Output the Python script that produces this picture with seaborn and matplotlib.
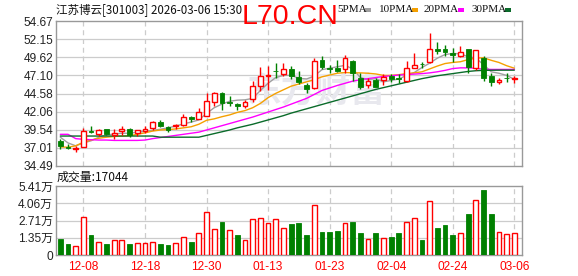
import matplotlib
matplotlib.use("Agg")
import matplotlib.pyplot as plt
import numpy as np
import pandas as pd
import seaborn as sns

sns.set_theme(style="white")
plt.rcParams["font.family"] = ["Liberation Sans", "Noto Sans CJK SC", "DejaVu Sans"]

# ---------------- data ----------------
title = "江苏博云[301003] 2026-03-06 15:30"
dates = ["12-03", "12-04", "12-05", "12-08", "12-09", "12-10", "12-11", "12-12", "12-15", "12-16",
         "12-17", "12-18", "12-19", "12-22", "12-23", "12-24", "12-25", "12-26", "12-29", "12-30",
         "12-31", "01-05", "01-06", "01-07", "01-08", "01-09", "01-12", "01-13", "01-14", "01-15",
         "01-16", "01-19", "01-20", "01-21", "01-22", "01-23", "01-26", "01-27", "01-28", "01-29",
         "01-30", "02-02", "02-03", "02-04", "02-05", "02-06", "02-09", "02-10", "02-11", "02-12",
         "02-13", "02-24", "02-25", "02-26", "02-27", "03-02", "03-03", "03-04", "03-05", "03-06"]
tick_dates = ["12-08", "12-18", "12-30", "01-13", "01-23", "02-04", "02-24", "03-06"]

opens = [38.00, 37.20, 36.85, 37.17, 39.40, 39.00, 39.60, 38.80, 39.30, 39.60,
         39.05, 39.30, 39.73, 40.65, 39.90, 40.05, 40.20, 41.35, 41.10, 41.50,
         43.40, 44.60, 43.40, 43.10, 42.90, 43.76, 45.60, 47.00, 47.75, 47.23,
         47.97, 46.90, 45.75, 45.30, 49.22, 48.10, 48.07, 47.93, 49.13, 46.68,
         45.75, 46.44, 46.44, 46.99, 46.75, 46.35, 48.15, 48.72, 48.98, 50.75,
         50.75, 50.15, 49.82, 50.75, 48.12, 49.54, 47.04, 46.12, 46.80, 46.58]
highs = [38.20, 37.50, 37.27, 39.82, 40.05, 39.60, 39.70, 39.60, 40.10, 39.80,
         39.55, 40.00, 40.70, 40.90, 40.00, 40.30, 41.70, 41.45, 42.60, 44.70,
         44.80, 44.80, 44.30, 43.20, 43.70, 46.30, 48.30, 48.40, 48.76, 48.76,
         48.39, 47.70, 45.98, 49.50, 49.78, 48.60, 49.30, 49.90, 49.20, 47.45,
         46.70, 46.68, 47.28, 47.28, 47.28, 49.08, 50.24, 48.98, 53.02, 51.77,
         51.31, 50.85, 51.17, 50.75, 50.61, 49.78, 47.37, 46.76, 47.37, 46.99]
lows = [36.90, 36.90, 36.40, 37.10, 39.10, 38.70, 38.80, 38.30, 38.80, 38.50,
        38.70, 39.10, 39.50, 39.90, 39.20, 39.70, 40.00, 40.60, 41.00, 41.40,
        42.90, 42.30, 42.90, 42.30, 42.60, 43.40, 44.90, 45.05, 46.76, 46.99,
        46.54, 45.90, 44.60, 45.20, 47.93, 47.45, 47.60, 47.37, 46.35, 45.20,
        45.30, 45.43, 45.75, 46.20, 46.00, 46.20, 48.07, 48.07, 48.76, 50.06,
        49.78, 48.98, 49.60, 47.37, 47.90, 46.35, 45.60, 45.89, 46.20, 46.07]
closes = [37.27, 37.00, 37.05, 39.35, 39.20, 39.50, 38.90, 39.10, 39.60, 38.80,
          39.50, 39.70, 40.60, 40.05, 39.50, 40.20, 41.35, 40.97, 42.00, 43.60,
          44.60, 43.30, 43.20, 42.85, 43.40, 45.60, 47.00, 47.10, 47.65, 47.93,
          47.00, 46.20, 45.15, 49.13, 48.29, 48.00, 47.73, 49.46, 47.37, 45.43,
          46.35, 45.50, 46.90, 46.58, 46.60, 48.07, 48.53, 48.62, 50.75, 50.47,
          50.29, 49.87, 50.29, 48.21, 50.61, 46.68, 46.20, 46.44, 46.70, 46.68]

ma5 = [38.50, 37.70, 37.30, 37.70, 38.00, 38.50, 38.80, 38.95, 39.05, 39.05,
       39.20, 39.30, 39.45, 39.60, 39.80, 40.05, 40.35, 40.60, 40.90, 41.80,
       42.60, 43.10, 43.50, 43.65, 43.70, 43.90, 45.00, 46.00, 46.80, 47.10,
       47.10, 46.70, 46.60, 47.00, 47.90, 48.10, 48.30, 48.50, 48.00, 46.80,
       46.50, 46.65, 46.20, 46.40, 46.60, 47.10, 47.50, 48.20, 48.80, 49.50,
       50.00, 50.15, 50.10, 49.70, 49.50, 48.60, 47.60, 47.40, 47.10, 46.55]
ma10 = [37.15, 37.10, 37.30, 37.80, 38.10, 38.35, 38.50, 38.60, 38.65, 38.70,
        38.90, 39.10, 39.35, 39.50, 39.55, 39.65, 39.80, 39.95, 40.30, 40.85,
        41.05, 41.35, 41.60, 41.95, 42.20, 42.60, 43.20, 44.00, 44.60, 45.10,
        45.60, 45.90, 46.20, 46.50, 46.90, 47.15, 47.40, 47.50, 47.45, 47.45,
        47.40, 47.30, 47.10, 47.10, 47.20, 47.35, 47.45, 47.60, 48.00, 48.40,
        48.75, 48.90, 49.00, 49.30, 49.50, 49.55, 49.20, 48.90, 48.45, 48.10]
ma20 = [38.90, 38.90, 38.30, 38.20, 38.15, 38.10, 38.10, 38.05, 38.05, 38.05,
        38.05, 38.10, 38.30, 38.45, 38.60, 38.75, 38.90, 39.05, 39.20, 39.50,
        39.80, 40.10, 40.40, 40.70, 41.00, 41.30, 41.65, 42.00, 42.35, 42.70,
        43.10, 43.50, 43.90, 44.45, 45.00, 45.35, 45.70, 46.00, 46.30, 46.50,
        46.65, 46.80, 46.95, 47.05, 47.15, 47.22, 47.28, 47.35, 47.45, 47.60,
        47.80, 48.05, 48.15, 48.15, 48.10, 47.95, 47.93, 47.93, 47.93, 47.93]
ma30 = [38.66, 38.66, 38.66, 38.66, 38.66, 38.66, 38.66, 38.66, 38.66, 38.66,
        38.66, 38.66, 38.66, 38.50, 38.50, 38.50, 38.50, 38.50, 38.50, 38.75,
        39.00, 39.25, 39.50, 39.80, 40.05, 40.30, 40.60, 40.90, 41.20, 41.50,
        41.85, 42.15, 42.45, 42.75, 43.05, 43.35, 43.65, 43.95, 44.25, 44.55,
        44.85, 45.15, 45.40, 45.65, 45.90, 46.15, 46.40, 46.65, 46.85, 47.05,
        47.20, 47.35, 47.50, 47.65, 47.75, 47.80, 47.82, 47.83, 47.83, 47.83]

volumes = [12700, 8700, 6900, 29800, 15800, 10000, 8700, 11600, 11600, 8700,
           9200, 9200, 10000, 8700, 7900, 9200, 14000, 10300, 17200, 33800,
           20300, 26100, 19500, 15800, 11600, 28500, 29000, 25100, 28500, 21100,
           24500, 25300, 15800, 39300, 18200, 18200, 19000, 25100, 26100, 17400,
           12700, 17400, 13200, 14200, 17400, 25900, 29000, 11900, 42500, 21400,
           23800, 15800, 17200, 32500, 43300, 50700, 32500, 18000, 16400, 17044]
vol_up = [0, 0, 1, 1, 0, 1, 0, 1, 1, 0, 1, 1, 1, 0, 0, 1, 1, 0, 1, 1,
          1, 0, 1, 0, 1, 1, 1, 1, 1, 1, 0, 0, 0, 1, 0, 0, 0, 1, 0, 0,
          1, 0, 1, 0, 0, 1, 1, 0, 1, 0, 0, 0, 1, 0, 1, 0, 0, 1, 1, 1]

price_ticks = [34.49, 37.01, 39.54, 42.06, 44.58, 47.10, 49.62, 52.15, 54.67]
vol_ticks = [0, 13525, 27050, 40575, 54100]
vol_tick_labels = ["0", "1.35万", "2.71万", "4.06万", "5.41万"]

ma_names = ["5PMA", "10PMA", "20PMA", "30PMA"]
ma_colors = ["#a0a0a0", "#f5a000", "#ff00ff", "#0a6b2a"]

# ---------------- styling ----------------
RED = "#ff0000"
GREEN = "#008000"
GRID = "#cccccc"
BORDER = "#999999"

W, H = 578, 276
fig = plt.figure(figsize=(W / 100, H / 100), dpi=100)
fig.patch.set_facecolor("white")
ax = fig.add_axes([56 / W, (H - 166) / H, 466 / W, 145 / H])
axv = fig.add_axes([56 / W, (H - 255) / H, 466 / W, 69 / H])

df = pd.DataFrame({"date": dates, "open": opens, "high": highs, "low": lows,
                   "close": closes, "vol": volumes, "vol_up": vol_up,
                   "MA5": ma5, "MA10": ma10, "MA20": ma20, "MA30": ma30})
df["idx"] = np.arange(len(df))

xlim = (-0.56, len(df))
tick_pos = [dates.index(d) for d in tick_dates]

for a in (ax, axv):
    a.set_facecolor("white")
    a.set_xlim(*xlim)
    for s in a.spines.values():
        s.set_color(BORDER)
        s.set_linewidth(1.0)
    for tp in tick_pos:
        a.axvline(tp, color=GRID, lw=0.9, ls=(0, (4, 3)), zorder=0)
    a.tick_params(axis="both", length=0, pad=2)

# price panel
ax.set_ylim(price_ticks[0], price_ticks[-1])
for yv in price_ticks[1:-1]:
    ax.axhline(yv, color=GRID, lw=0.9, zorder=0)
ax.set_yticks(price_ticks)
ax.set_yticklabels([f"{v:.2f}" for v in price_ticks], fontsize=8.6, color="#222222")
ax.set_xticks([])

# watermark
ax.text(0.56, 0.52, "东方财富", transform=ax.transAxes, fontsize=25, fontweight="bold",
        color="#e8e8ee", ha="center", va="center", family=["Noto Sans CJK SC"], zorder=0.5)

# moving averages via seaborn
for name, c in zip(["MA5", "MA10", "MA20", "MA30"], ma_colors):
    sns.lineplot(data=df, x="idx", y=name, ax=ax, color=c, lw=1.0, zorder=2, legend=False)
ax.set_xlabel("")
ax.set_ylabel("")

# candles
bw = 0.62
for _, r in df.iterrows():
    up = r["close"] >= r["open"]
    col = RED if up else GREEN
    lo_b, hi_b = min(r["open"], r["close"]), max(r["open"], r["close"])
    ax.vlines(r["idx"], r["low"], lo_b, color=col, lw=1.0, zorder=3)
    ax.vlines(r["idx"], hi_b, r["high"], color=col, lw=1.0, zorder=3)
    h = max(hi_b - lo_b, 0.03)
    if up:
        ax.bar(r["idx"], h, bottom=lo_b, width=bw, facecolor="white", edgecolor=col,
               lw=1.0, zorder=3)
    else:
        ax.bar(r["idx"], h, bottom=lo_b, width=bw, facecolor=col, edgecolor=col,
               lw=0.6, zorder=3)

# volume panel
axv.set_ylim(0, vol_ticks[-1])
for yv in vol_ticks[1:-1]:
    axv.axhline(yv, color=GRID, lw=0.9, zorder=0)
axv.set_yticks(vol_ticks)
axv.set_yticklabels(vol_tick_labels, fontsize=8.6, color="#222222")
for _, r in df.iterrows():
    if r["vol_up"]:
        axv.bar(r["idx"], r["vol"], width=bw, facecolor="white", edgecolor=RED, lw=1.0, zorder=3)
    else:
        axv.bar(r["idx"], r["vol"], width=bw, facecolor=GREEN, edgecolor=GREEN, lw=0.6, zorder=3)
axv.set_xticks(tick_pos)
axv.set_xticklabels(tick_dates, fontsize=8.6, color=RED)
axv.tick_params(axis="x", pad=4)

# header texts
fig.text(56 / W, 1 - 9.5 / H, title, fontsize=8.3, va="center", ha="left",
         family=["Noto Sans CJK SC", "DejaVu Sans"], color="#111111")
fig.text(57 / W, 1 - 177 / H, f"成交量:{volumes[-1]}", fontsize=8.6, va="center", ha="left",
         family=["Noto Sans CJK SC", "DejaVu Sans"], color="#111111")

legend_x = [337, 379, 424, 471]
square_x = [365, 412, 458, 505]
for name, c, lx, sx in zip(ma_names, ma_colors, legend_x, square_x):
    fig.text(lx / W, 1 - 9 / H, name, fontsize=8.0, va="center", ha="left",
             family=["Liberation Serif"], color="#111111")
    fig.patches.append(plt.Rectangle((sx / W, 1 - 11.5 / H), 6 / W, 3.5 / H,
                                     transform=fig.transFigure, facecolor=c, edgecolor="none"))

fig.text(242 / W, 1 - 17 / H, "L70.CN", fontsize=20.5, color=RED, va="center", ha="left",
         family=["Liberation Sans"], zorder=10)

fig.savefig("out.png", dpi=100, facecolor="white")
